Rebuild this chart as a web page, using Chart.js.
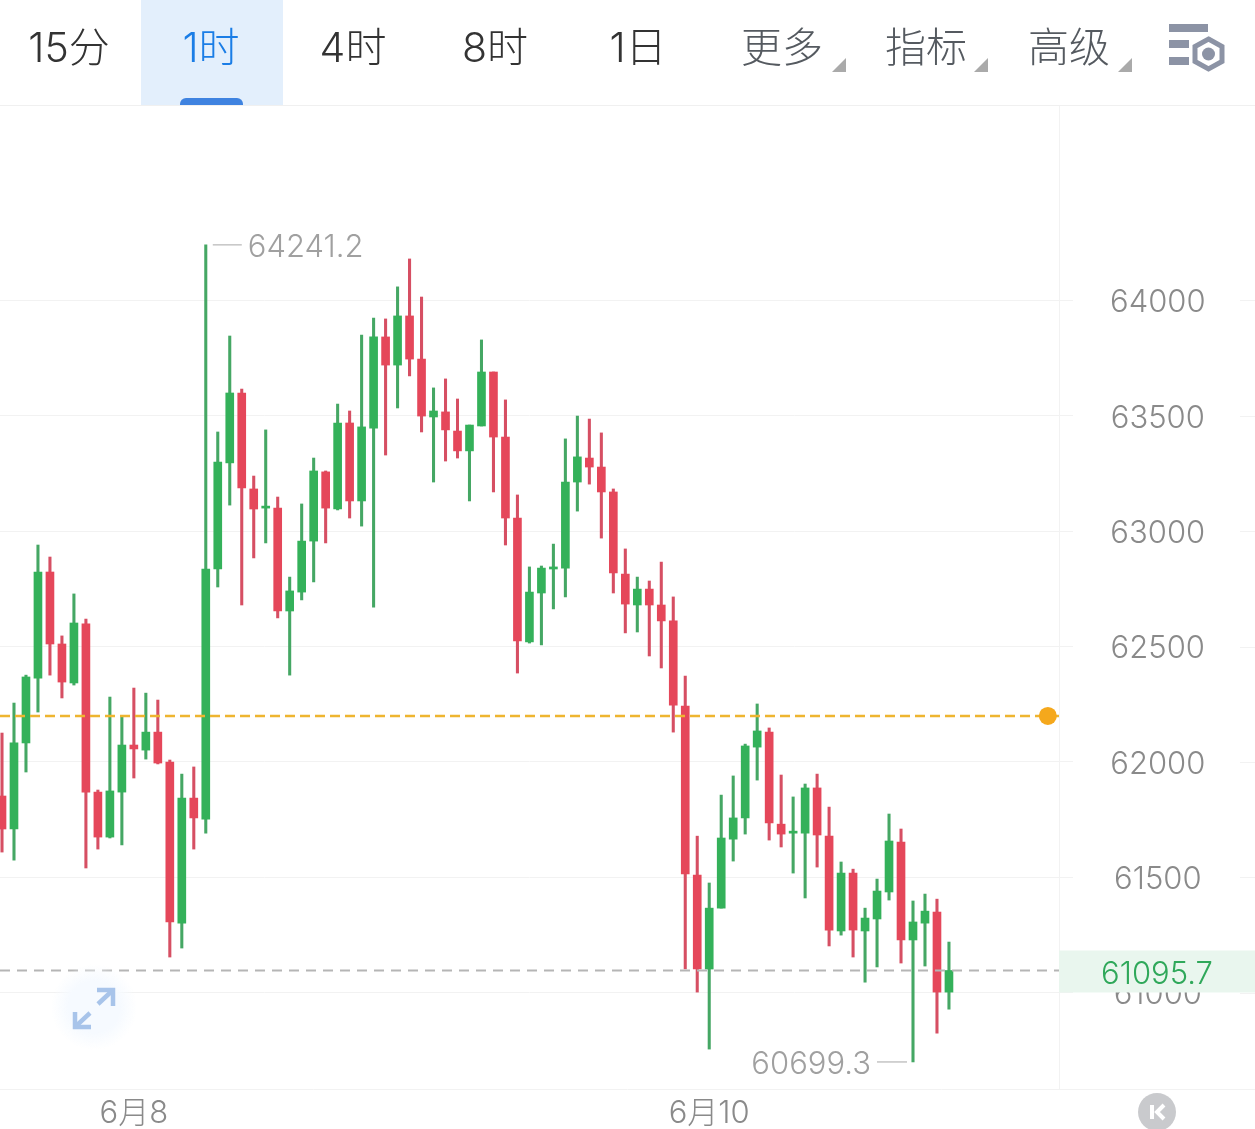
<!DOCTYPE html>
<html lang="zh">
<head>
<meta charset="utf-8">
<title>K线</title>
<script src="https://cdn.jsdelivr.net/npm/chart.js@4/dist/chart.umd.min.js"></script>
<style>
  html, body { margin: 0; padding: 0; background: #fff; overflow: hidden; }
  #page { position: relative; width: 1255px; height: 1129px; overflow: hidden; font-family: Inter, "Noto Sans CJK SC", sans-serif; }
  #chart { position: absolute; left: 0; top: 0; }
  #toolbar { position: absolute; left: 0; top: 0; width: 1255px; height: 105px; border-bottom: 1px solid #f0f0f0; }
  #active { position: absolute; left: 141px; top: 0; width: 142px; height: 105px; background: #e3effc; }
  #marker { position: absolute; left: 180px; top: 98px; width: 63px; height: 7px; background: #3f83e0; border-radius: 6px 6px 0 0; }
  .tab { position: absolute; top: 20px; line-height: 54px; font-size: 41px; font-weight: 300; color: #333; transform: translateX(-50%); white-space: nowrap; }
  .tab.on { color: #1a7de6; }
  .tab.menu { color: #555a60; }
  svg { position: absolute; left: 0; top: 0; pointer-events: none; }
</style>
</head>
<body>
<div id="page">
  <canvas id="chart" width="1255" height="1129"></canvas>
  <div id="toolbar">
    <div id="active"></div>
    <div id="marker"></div>
    <span class="tab" style="left:69px">15分</span>
    <span class="tab on" style="left:211px">1时</span>
    <span class="tab" style="left:353px">4时</span>
    <span class="tab" style="left:495px">8时</span>
    <span class="tab" style="left:638px">1日</span>
    <span class="tab menu" style="left:782px">更多</span>
    <span class="tab menu" style="left:926px">指标</span>
    <span class="tab menu" style="left:1069px">高级</span>
  </div>
  <svg width="1255" height="1129">
    <defs>
      <radialGradient id="glow">
        <stop offset="0.6" stop-color="#f6faff"></stop>
        <stop offset="1" stop-color="#f6faff" stop-opacity="0"></stop>
      </radialGradient>
    </defs>
    <polygon points="846,58 846,72 832,72" fill="#aaaaaa"></polygon>
    <polygon points="988,58 988,72 974,72" fill="#aaaaaa"></polygon>
    <polygon points="1132,58 1132,72 1118,72" fill="#aaaaaa"></polygon>
    <rect x="1169" y="24" width="39" height="8" fill="#8c93a5"></rect>
    <rect x="1169" y="40" width="20" height="8" fill="#8c93a5"></rect>
    <rect x="1169" y="57" width="20" height="8" fill="#8c93a5"></rect>
    <polygon points="1208.5,39 1222,46.500 1222,61.500 1208.500,69 1195,61.500 1195,46.500" fill="#fff" stroke="#8c93a5" stroke-width="5"></polygon>
    <circle cx="1208.500" cy="54" r="6.500" fill="#8c93a5"></circle>
    <circle cx="94" cy="1007" r="43" fill="url(#glow)"></circle>
    <g fill="none" stroke="#a8c4ea" stroke-width="4.500">
      <path d="M98 1004 L113 990"></path>
      <path d="M97 990 L113 990 L113 1006"></path>
      <path d="M90 1013 L75 1027"></path>
      <path d="M75 1012 L75 1027 L91 1027"></path>
    </g>
    <circle cx="1157" cy="1112" r="19" fill="#c9cacd"></circle>
    <rect x="1150" y="1105" width="4" height="14" fill="#fff"></rect>
    <path d="M1164 1105 L1157 1112 L1164 1119" fill="none" stroke="#fff" stroke-width="4"></path>
  </svg>
</div>
<script>
  const highs = [
    62125, 62255, 62376, 62940, 62888, 62546, 62728, 62619, 61878, 62281,
    62194, 62320, 62298, 62268, 62008, 61947, 61978, 64241.2, 63430, 63846,
    63616, 63239, 63439, 63148, 62801, 63118, 63317, 63261, 63551, 63521,
    63850, 63924, 63920, 64059, 64180, 64015, 63621, 63660, 63573, 63460,
    63829, 63690, 63569, 63157, 62845, 62849, 62944, 63400, 63499, 63486,
    63426, 63183, 62923, 62801, 62784, 62866, 62715, 62372, 61678, 61475,
    61856, 61939, 62077, 62251, 62147, 61943, 61848, 61904, 61947, 61804,
    61566, 61535, 61366, 61492, 61774, 61709, 61397, 61427, 61405, 61219
  ]
  const opens = [
    61852, 61709, 62082, 62363, 62823, 62511, 62342, 62598, 61869, 61674,
    61869, 62073, 62051, 62129, 61999, 61301, 61843, 61752, 62836, 63296,
    63599, 63183, 63100, 63100, 62654, 62736, 62957, 63257, 63096, 63469,
    63131, 63447, 63842, 63720, 63933, 63746, 63495, 63517, 63434, 63348,
    63456, 63690, 63408, 63057, 62520, 62732, 62836, 62840, 63213, 63317,
    63278, 63170, 62814, 62680, 62749, 62680, 62611, 62242, 61509, 61102,
    61366, 61665, 61757, 62064, 62129, 61730, 61691, 61691, 61887, 61678,
    61267, 61518, 61267, 61319, 61436, 61652, 61228, 61301, 61349, 61002
  ]
  const closes = [
    61709, 62082, 62368, 62823, 62511, 62346, 62602, 61869, 61674, 61874,
    62073, 62056, 62129, 61995, 61306, 61843, 61757, 62836, 63300, 63599,
    63187, 63096, 63105, 62654, 62741, 62957, 63261, 63100, 63469, 63131,
    63452, 63842, 63720, 63933, 63746, 63499, 63521, 63439, 63348, 63460,
    63690, 63408, 63057, 62524, 62736, 62840, 62845, 63213, 63322, 63278,
    63170, 62819, 62684, 62749, 62680, 62611, 62246, 61514, 61102, 61366,
    61670, 61757, 62069, 62134, 61735, 61687, 61696, 61887, 61683, 61271,
    61518, 61271, 61323, 61440, 61657, 61228, 61306, 61353, 61002, 61095.7
  ]
  const lows = [
    61609, 61574, 61956, 62216, 62376, 62277, 62333, 61540, 61622, 61670,
    61640, 61930, 62012, 61991, 61154, 61193, 61622, 61691, 62758, 63113,
    62680, 62884, 62949, 62624, 62376, 62702, 62780, 62949, 63092, 63057,
    63022, 62671, 63330, 63534, 63673, 63430, 63213, 63304, 63317, 63131,
    63456, 63170, 62940, 62385, 62515, 62507, 62663, 62715, 63087, 63204,
    62970, 62732, 62559, 62563, 62459, 62407, 62129, 61102, 61002, 60755,
    61366, 61570, 61687, 61921, 61661, 61631, 61518, 61410, 61544, 61202,
    61249, 61154, 61045, 61111, 61401, 61128, 60699.3, 61115, 60824, 60928
  ]

  const priceTicks = [61000, 61500, 62000, 62500, 63000, 63500, 64000]
  const timeTickIndexes = [11, 59]
  const timeTickLabels = ["6月8", "6月10"]

  const lastPrice = 61095.7
  const markPrice = 62199
  const markDotIndex = 87.25
  const highMark = { index: 17, value: 64241.2, label: "64241.2" }
  const lowMark = { index: 76, value: 60699.3, label: "60699.3" }

  const GREEN = "#34b15a"
  const RED = "#e5475a"
  const GREEN_WICK = "#45a764"
  const RED_WICK = "#d64f63"
  const NUMBER_FONT = "Inter, 'Noto Sans CJK SC', sans-serif"

  const xMin = -0.167
  const xMax = 88.18

  const isUp = (index) => closes[index] >= opens[index]
  const candleColors = highs.map((_, index) => (isUp(index) ? GREEN : RED))
  const wickColors = highs.map((_, index) => (isUp(index) ? GREEN_WICK : RED_WICK))

  const extras = {
    id: "extras",
    afterDraw(chart) {
      const { ctx, scales } = chart
      const { x, y } = scales
      const area = chart.chartArea

      ctx.save()

      // short grid stubs right of the price labels, and the full width bottom rule
      ctx.strokeStyle = "#f2f2f2"
      ctx.lineWidth = 1
      priceTicks.forEach((tick) => {
        const py = Math.round(y.getPixelForValue(tick)) + 0.5
        ctx.beginPath()
        ctx.moveTo(1240, py)
        ctx.lineTo(1255, py)
        ctx.stroke()
      })
      ctx.beginPath()
      ctx.moveTo(0, area.bottom + 0.5)
      ctx.lineTo(1255, area.bottom + 0.5)
      ctx.stroke()

      // last price tag sits over the 61000 label
      const lastY = y.getPixelForValue(lastPrice)
      ctx.fillStyle = "#e9f6ee"
      ctx.fillRect(area.right, lastY - 20, 1255 - area.right, 42)
      ctx.fillStyle = "#2fa85a"
      ctx.font = `300 31px ${NUMBER_FONT}`
      ctx.textAlign = "center"
      ctx.textBaseline = "middle"
      ctx.fillText(String(lastPrice), 1157, lastY + 4)

      // high and low callouts
      ctx.strokeStyle = "#c4c4c4"
      ctx.fillStyle = "#a0a0a0"
      ctx.lineWidth = 1.5

      const highX = x.getPixelForValue(highMark.index)
      const highY = y.getPixelForValue(highMark.value)
      ctx.beginPath()
      ctx.moveTo(highX + 7, highY)
      ctx.lineTo(highX + 36, highY)
      ctx.stroke()
      ctx.textAlign = "left"
      ctx.fillText(highMark.label, highX + 42, highY + 3)

      const lowX = x.getPixelForValue(lowMark.index)
      const lowY = y.getPixelForValue(lowMark.value)
      ctx.beginPath()
      ctx.moveTo(lowX - 6, lowY)
      ctx.lineTo(lowX - 36, lowY)
      ctx.stroke()
      ctx.textAlign = "right"
      ctx.fillText(lowMark.label, lowX - 42, lowY + 3)

      ctx.restore()
    }
  }

  new Chart(document.getElementById("chart"), {
    type: "bar",
    plugins: [extras],
    data: {
      datasets: [
        {
          type: "line",
          data: [{ x: xMin, y: lastPrice }, { x: xMax, y: lastPrice }],
          borderColor: "#b5b5b5",
          borderWidth: 2,
          borderDash: [10, 7],
          pointRadius: 0,
          order: 1
        },
        {
          type: "line",
          data: [{ x: xMin, y: markPrice }, { x: xMax, y: markPrice }],
          borderColor: "#eeb530",
          borderWidth: 2.5,
          borderDash: [10, 5],
          pointRadius: 0,
          order: 1
        },
        {
          type: "scatter",
          data: [{ x: markDotIndex, y: markPrice }],
          backgroundColor: "#f5a81c",
          borderWidth: 0,
          pointRadius: 9,
          order: 0
        },
        {
          data: highs.map((_, index) => ({ x: index, y: [lows[index], highs[index]] })),
          backgroundColor: wickColors,
          barThickness: 2.4,
          grouped: false,
          order: 3
        },
        {
          data: highs.map((_, index) => ({ x: index, y: [opens[index], closes[index]] })),
          backgroundColor: candleColors,
          barThickness: 8,
          minBarLength: 2,
          grouped: false,
          order: 2
        }
      ]
    },
    options: {
      responsive: false,
      animation: false,
      events: [],
      layout: { autoPadding: false, padding: { top: 106, bottom: 0, left: 0, right: 0 } },
      plugins: {
        legend: { display: false },
        tooltip: { enabled: false }
      },
      scales: {
        x: {
          type: "linear",
          min: xMin,
          max: xMax,
          offset: false,
          grid: { display: false, drawTicks: false },
          border: { display: false },
          afterBuildTicks: (scale) => {
            scale.ticks = timeTickIndexes.map((value) => ({ value }))
          },
          afterFit: (scale) => {
            scale.height = 40
            scale.paddingLeft = 0
            scale.paddingRight = 0
          },
          ticks: {
            color: "#8a8a8a",
            font: { size: 31, weight: "300", family: NUMBER_FONT },
            padding: 6,
            maxRotation: 0,
            autoSkip: false,
            callback: (value) => timeTickLabels[timeTickIndexes.indexOf(value)]
          }
        },
        y: {
          type: "linear",
          position: "right",
          min: 60582,
          max: 64843,
          afterBuildTicks: (scale) => {
            scale.ticks = priceTicks.map((value) => ({ value }))
          },
          afterFit: (scale) => {
            scale.width = 196
            scale.paddingTop = 0
            scale.paddingBottom = 0
          },
          grid: { color: "#f2f2f2", tickColor: "#f2f2f2", tickLength: 14 },
          border: { color: "#f2f2f2" },
          ticks: {
            color: "#8a8a8a",
            font: { size: 31, weight: "300", family: NUMBER_FONT },
            crossAlign: "center",
            labelOffset: 2.5,
            padding: 37,
            callback: (value) => String(value)
          }
        }
      }
    }
  })
</script>
</body>
</html>
